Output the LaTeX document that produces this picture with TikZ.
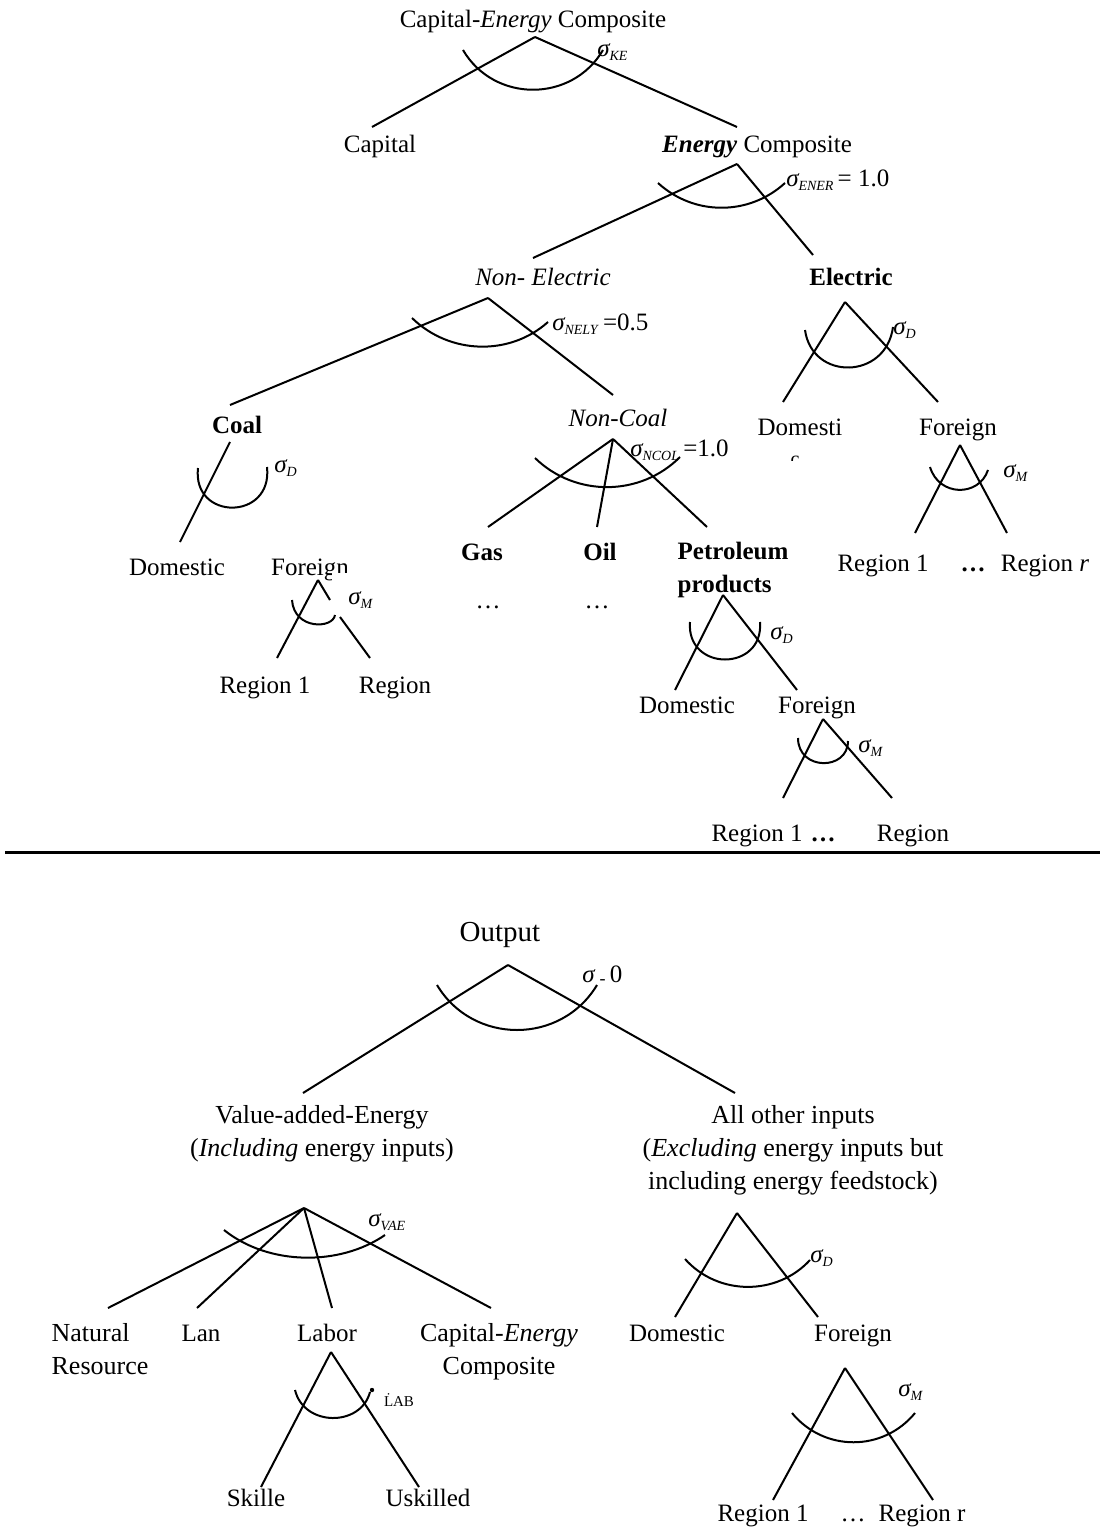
\documentclass[tikz,border=0pt]{standalone}
\usepackage{fontspec}
\setmainfont{Liberation Serif}
\usetikzlibrary{positioning}

% elasticity label: sigma with small italic subscript
\newcommand{\sig}[1]{\textit{σ}\kern-0.5pt\raisebox{-2pt}{\fontsize{7}{8}\selectfont\textit{#1}}}

\begin{document}
\begin{tikzpicture}[x=0.5pt, y=-0.5pt,
    lbl/.style={inner sep=1pt, font=\fontsize{12.5}{16.5}\selectfont, text height=8.5pt, text depth=3.5pt, yshift=-1.5pt},
    lbltwo/.style={inner sep=1pt, font=\fontsize{12.5}{16.5}\selectfont},
    lowlbl/.style={inner sep=1pt, font=\fontsize{13}{16.5}\selectfont},
    elas/.style={inner sep=0pt, anchor=west, font=\fontsize{12.5}{15}\selectfont},
    branch/.style={line width=1pt}]
\useasboundingbox (0,0) rectangle (1102,1535);

% Capital-Energy composite
\node[lbl] (ke) at (533,20) {Capital-\textit{Energy} Composite};
\coordinate (ke-a) at (535,37);
\coordinate (ke-l) at (372,127);
\coordinate (ke-r) at (737,127);
\draw[branch] (ke-a) -- (ke-l);
\draw[branch] (ke-a) -- (ke-r);
\draw[branch] (463,50) .. controls +(31,53) and +(-31,53) .. (603,50);
\node[elas] (ke-s) at (597,52) {\sig{KE}};
\node[lbl] (cap) at (380,145) {Capital};
\node[lbl] (ener) at (757,145) {\textbf{\textit{Energy}} Composite};

% Energy composite
\coordinate (ener-a) at (737,164);
\coordinate (ener-l) at (533,258);
\coordinate (ener-r) at (813,255);
\draw[branch] (ener-a) -- (ener-l);
\draw[branch] (ener-a) -- (ener-r);
\draw[branch] (658,183) .. controls +(36,33) and +(-36,33) .. (785,183);
\node[elas] (ener-s) at (786,180) {\sig{ENER}\,= 1.0};
\node[lbl] (nely) at (543,278) {\textit{Non- Electric}};
\node[lbl] (elec) at (851,278) {\textbf{Electric}};

% Non-electric
\coordinate (nely-a) at (488,298);
\coordinate (nely-l) at (230,405);
\coordinate (nely-r) at (613,395);
\draw[branch] (nely-a) -- (nely-l);
\draw[branch] (nely-a) -- (nely-r);
\draw[branch] (412,318) .. controls +(38,37) and +(-38,34) .. (548,322);
\node[elas] (nely-s) at (552,324) {\sig{NELY}\,=0.5};
\node[lbl] (coal) at (237,425) {\textbf{Coal}};
\node[lbl] (ncol) at (618,418) {\textit{Non-Coal}};

% Electric
\coordinate (elec-a) at (845,302);
\coordinate (elec-l) at (783,402);
\coordinate (elec-r) at (938,402);
\draw[branch] (elec-a) -- (elec-l);
\draw[branch] (elec-a) -- (elec-r);
\draw[branch] (805,330) .. controls +(7,51) and +(-7,53) .. (893,327);
\node[elas] (elec-s) at (893,330) {\sig{D}};
\node[lbl] (elec-d) at (800,427) {Domesti};
\begin{scope}
  \clip (780,450) rectangle (812,460);
  \node[inner sep=0pt, anchor=north] at (795,456) {c};
\end{scope}
\node[lbl] (elec-f) at (958,427) {Foreign};
\coordinate (elecf-a) at (960,445);
\coordinate (elecf-l) at (915,533);
\coordinate (elecf-r) at (1007,533);
\draw[branch] (elecf-a) -- (elecf-l);
\draw[branch] (elecf-a) -- (elecf-r);
\draw[branch] (930,467) .. controls +(9,30) and +(-9,27) .. (988,470);
\node[elas] (elecf-s) at (1003,473) {\sig{M}};
\node[lbl] (elecf-1) at (883,563) {Region 1};
\node[lbl] (elecf-d) at (973,563) {\textbf{\dots}};
\node[lbl] (elecf-r1) at (1045,563) {Region \textit{r}};

% Coal
\coordinate (coal-a) at (230,442);
\coordinate (coal-l) at (180,542);
\draw[branch] (coal-a) -- (coal-l);
\draw[branch] (198,468) .. controls +(-6,53) and +(6,54) .. (267,467);
\node[elas] (coal-s) at (274,468) {\sig{D}};
\node[lbl] (coal-d) at (177,567) {Domestic};
\begin{scope}
  \clip (270,550) rectangle (331,585) (331,550) rectangle (362,572);
  \node[lbl] (coal-f) at (310,567) {Foreign};
\end{scope}
\coordinate (coalf-a) at (318,580);
\coordinate (coalf-l) at (277,658);
\coordinate (coalf-g1) at (330,600);
\coordinate (coalf-g2) at (340,617);
\coordinate (coalf-r) at (370,658);
\draw[branch] (coalf-a) -- (coalf-l);
\draw[branch] (coalf-a) -- (coalf-g1);
\draw[branch] (coalf-g2) -- (coalf-r);
\draw[branch] (292,600) .. controls +(2,30) and +(-2,14) .. (335,615);
\node[elas] (coalf-s) at (348,600) {\sig{M}};
\node[lbl] (coalf-1) at (265,685) {Region 1};
\node[lbl] (coalf-r1) at (395,685) {Region};

% Non-coal
\coordinate (ncol-a) at (613,439);
\coordinate (ncol-g) at (488,527);
\coordinate (ncol-o) at (597,527);
\coordinate (ncol-p) at (707,527);
\draw[branch] (ncol-a) -- (ncol-g);
\draw[branch] (ncol-a) -- (ncol-o);
\draw[branch] (ncol-a) -- (ncol-p);
\draw[branch] (535,458) .. controls +(40,39) and +(-40,40) .. (680,457);
\node[elas] (ncol-s) at (630,450) {\sig{NCOL}\,=1.0};
\node[lbl] (gas) at (482,552) {\textbf{Gas}};
\node[lbl] (oil) at (600,552) {\textbf{Oil}};
\node[lbltwo, align=left] (pet) at (733,570) {\textbf{Petroleum}\\\textbf{products}};
\node[lbl] (gas-d) at (488,600) {\dots};
\node[lbl] (oil-d) at (597,600) {\dots};

% Petroleum products
\coordinate (pet-a) at (723,595);
\coordinate (pet-l) at (675,690);
\coordinate (pet-r) at (797,690);
\draw[branch] (pet-a) -- (pet-l);
\draw[branch] (pet-a) -- (pet-r);
\draw[branch] (690,622) .. controls +(-4,50) and +(4,50) .. (760,622);
\node[elas] (pet-s) at (770,635) {\sig{D}};
\node[lbl] (pet-d) at (687,705) {Domestic};
\node[lbl] (pet-f) at (817,705) {Foreign};
\coordinate (petf-a) at (823,719);
\coordinate (petf-l) at (783,798);
\coordinate (petf-r) at (892,798);
\draw[branch] (petf-a) -- (petf-l);
\draw[branch] (petf-a) -- (petf-r);
\draw[branch] (798,738) .. controls +(0,33) and +(0,30) .. (848,741);
\node[elas] (petf-s) at (858,748) {\sig{M}};
\node[lbl] (petf-1) at (757,833) {Region 1};
\node[lbl] (petf-d) at (823,833) {\textbf{\dots}};
\node[lbl] (petf-r1) at (913,833) {Region};

% separator
\draw[line width=1.5pt] (5,852) -- (1100,852);

% Output
\node[inner sep=1pt, font=\fontsize{14.5}{16}\selectfont] (out) at (500,935) {Output};
\coordinate (out-a) at (508,965);
\coordinate (out-l) at (303,1093);
\coordinate (out-r) at (735,1093);
\draw[branch] (out-a) -- (out-l);
\draw[branch] (out-a) -- (out-r);
\draw[branch] (437,985) .. controls +(36,60) and +(-36,60) .. (597,985);
\node[elas] (out-s) at (582,975) {\textit{σ}\,\raisebox{-1pt}{\small -}\,0};
\node[lowlbl, align=center] (vae) at (322,1134) {Value-added-Energy\\(\textit{Including} energy inputs)};
\node[lowlbl, align=center] (oth) at (793,1150) {All other inputs\\(\textit{Excluding} energy inputs but\\including energy feedstock)};

% Value-added-energy
\coordinate (vae-a) at (304,1208);
\coordinate (vae-n) at (108,1308);
\coordinate (vae-la) at (197,1308);
\coordinate (vae-lb) at (332,1308);
\coordinate (vae-k) at (491,1308);
\draw[branch] (vae-a) -- (vae-n);
\draw[branch] (vae-a) -- (vae-la);
\draw[branch] (vae-a) -- (vae-lb);
\draw[branch] (vae-a) -- (vae-k);
\draw[branch] (224,1230) .. controls +(45,36) and +(-45,31) .. (385,1235);
\node[elas] (vae-s) at (368,1222) {\sig{VAE}};
\node[lowlbl, align=left] (nat) at (100,1349) {Natural\\Resource};
\node[lbl] (lan) at (201,1333) {Lan};
\node[lbl] (lab) at (327,1333) {Labor};
\node[lowlbl, align=center] (kec) at (499,1352) {Capital-\textit{Energy}\\Composite};

% Labor
\coordinate (lab-a) at (331,1352);
\coordinate (lab-l) at (261,1487);
\coordinate (lab-r) at (419,1487);
\draw[branch] (lab-a) -- (lab-l);
\draw[branch] (lab-a) -- (lab-r);
\draw[branch] (295,1390) .. controls +(9,37) and +(-9,35) .. (370,1392);
\fill (372,1390) circle (1.1pt);
\node[inner sep=0pt, font=\fontsize{7.5}{9}\selectfont] (lab-s) at (399,1400) {\.LAB};
\node[lbl] (skl) at (256,1498) {Skille};
\node[lbl] (usk) at (428,1498) {Uskilled};

% All other inputs
\coordinate (oth-a) at (737,1213);
\coordinate (oth-l) at (675,1317);
\coordinate (oth-r) at (818,1317);
\draw[branch] (oth-a) -- (oth-l);
\draw[branch] (oth-a) -- (oth-r);
\draw[branch] (685,1259) .. controls +(33,37) and +(-33,36) .. (810,1260);
\node[elas] (oth-s) at (810,1258) {\sig{D}};
\node[lbl] (oth-d) at (677,1333) {Domestic};
\node[lbl] (oth-f) at (853,1333) {Foreign};
\coordinate (othf-a) at (845,1368);
\coordinate (othf-l) at (773,1500);
\coordinate (othf-r) at (933,1500);
\draw[branch] (othf-a) -- (othf-l);
\draw[branch] (othf-a) -- (othf-r);
\draw[branch] (792,1413) .. controls +(32,39) and +(-32,39) .. (915,1413);
\node[elas] (othf-s) at (898,1392) {\sig{M}};
\node[lbl] (othf-1) at (763,1513) {Region 1};
\node[lbl] (othf-d) at (853,1513) {\dots};
\node[lbl] (othf-r1) at (922,1513) {Region r};
\end{tikzpicture}
\end{document}
